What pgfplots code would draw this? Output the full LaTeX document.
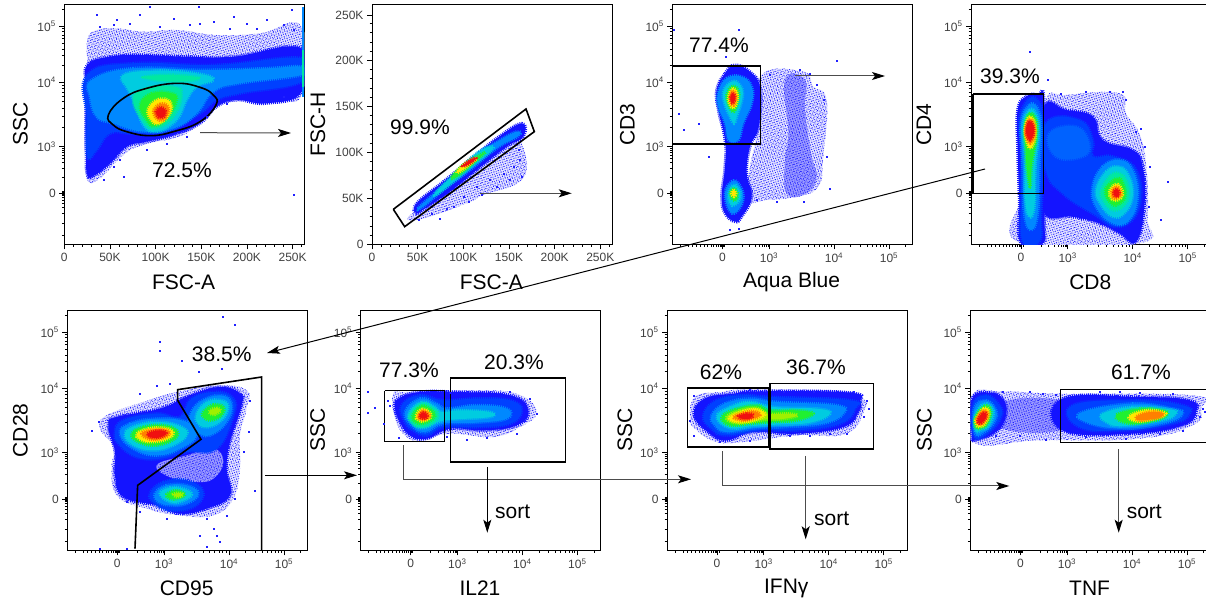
\documentclass[border=0pt]{standalone}
\usepackage{fontspec}
\setmainfont{Liberation Sans}
\usepackage{pgfplots}
\pgfplotsset{compat=1.18}
\usetikzlibrary{arrows.meta,patterns.meta}
\definecolor{c0}{HTML}{E4E4FF}
\definecolor{c0b}{HTML}{9A9AFF}
\definecolor{c1}{HTML}{1414FF}
\definecolor{c2}{HTML}{0040FF}
\definecolor{c2b}{HTML}{0062FF}
\definecolor{c3}{HTML}{0088FF}
\definecolor{c4}{HTML}{00CCE0}
\definecolor{c5}{HTML}{00E8A0}
\definecolor{c6}{HTML}{20F030}
\definecolor{c7}{HTML}{A0F000}
\definecolor{c8}{HTML}{FFE800}
\definecolor{c9}{HTML}{FF8000}
\definecolor{c10}{HTML}{F01010}
\definecolor{dots}{HTML}{2020FF}
\newcommand\B[2]{\addplot[draw=#1,line width=3pt,dash pattern=on 0.9pt off 1.1pt,fill=#1,smooth cycle,tension=0.75,forget plot] coordinates {#2};}
\newcommand\Sp[2]{%
  \addplot[draw=none,fill=#1,smooth cycle,tension=0.75,forget plot] coordinates {#2};%
  \addplot[draw=none,pattern={Dots[distance=2.3pt,radius=0.55pt,angle=17]},pattern color=dots,smooth cycle,tension=0.75,forget plot] coordinates {#2};%
  \addplot[draw=none,pattern={Dots[distance=3.1pt,radius=0.55pt,angle=63]},pattern color=dots,smooth cycle,tension=0.75,forget plot] coordinates {#2};%
}
\newcommand\G[1]{\addplot[black,line width=1.6pt,line join=miter,forget plot] coordinates {#1};}
\newcommand\D[1]{\addplot[only marks,mark=square*,mark size=0.55pt,color=dots,draw=none,forget plot] coordinates {#1};}
\newcommand\T[3]{\node[font=\fontsize{21}{21}\selectfont,inner sep=0pt] at (#1,{602-#2}) {#3};}
\newcommand\A[5][black!70]{\draw[#1,line width=1pt,-{Stealth[length=13pt,width=8pt,inset=3pt,black]}] (#2,{602-#3}) -- (#4,{602-#5});}
\pgfplotsset{
  flow/.style n args={4}{
    at={(#1pt,#2pt)},anchor=south west,width=240pt,height=240pt,scale only axis,
    xmin=0,xmax=720,ymin=0,ymax=720,
    x filter/.expression={x-#3},y filter/.expression={720-(y-#4)},
    xtick pos=lower,ytick pos=lower,tick align=outside,
    major tick length=5pt,minor tick length=2.5pt,
    every tick/.style={black,line width=0.7pt},
    axis line style={line width=1pt},
    tick label style={font=\fontsize{12}{12}\selectfont,color=black!75},
    every axis x label/.style={at={(axis description cs:0.497,0)},anchor=center,yshift=-38pt,font=\fontsize{21}{21}\selectfont},
  },
  yl/.style={every axis y label/.style={at={(axis description cs:{-#1/240},0.5)},rotate=90,anchor=center,font=\fontsize{21}{21}\selectfont}},
  bx/.style={xtick={150,290,485,650},xticklabels={0,10\textsuperscript{3},10\textsuperscript{4},10\textsuperscript{5}},
    minor xtick={24,48,60,72,84,96,106,116,124,132,138,144,148,152,156,210,232,250,262,270,277,283,287,349,382,407,426,442,455,466,476,535,564,584,600,613,625,634,642,700}},
  by/.style={ytick={154,293,486,654},yticklabels={0,10\textsuperscript{3},10\textsuperscript{4},10\textsuperscript{5}},
    minor ytick={28,62,92,110,122,132,140,146,150,152,156,158,200,228,245,258,268,276,283,288,351,385,409,428,443,456,468,478,537,566,586,603,617,628,638,647,704}},
  lx/.style={xtick={0,137,274,411,548,685},xticklabels={0,50K,100K,150K,200K,250K},
    minor xtick={27.4,54.8,82.2,109.6,164.4,191.8,219.2,246.6,301.4,328.8,356.2,383.6,438.4,465.8,493.2,520.6,575.4,602.8,630.2,657.6,712.4}},
  ly/.style={ytick={0,138,276,413,551,688},yticklabels={0,50K,100K,150K,200K,250K},
    minor ytick={27.6,55.2,82.8,110.4,165.6,193.2,220.8,248.4,303.6,331.2,358.8,386.4,441.6,469.2,496.8,524.4,579.6,607.2,634.8,662.4}},
}
\begin{document}
\begin{tikzpicture}[x=1pt,y=1pt]
\path[use as bounding box,clip] (0,0) rectangle (1206,602);
% ---------- panel 1
\begin{axis}[flow={64.33}{357.67}{193}{13},lx,by,yl=44,xlabel={FSC-A},ylabel={SSC}]
\Sp{c0}{(262,200)(262,120)(290,90)(350,85)(430,95)(530,90)(650,105)(780,100)(905,80)(905,285)(820,295)(700,305)(640,325)(560,400)(430,435)(370,465)(300,535)(262,540)(258,450)(256,350)(258,260)}
\B{c1}{(262,195)(330,170)(420,165)(560,170)(700,170)(905,145)(905,275)(800,310)(710,300)(650,320)(600,370)(520,405)(440,425)(380,440)(330,490)(285,525)(262,525)(258,450)(257,350)(258,260)}
\B{c2}{(262,225)(400,190)(650,195)(905,175)(905,245)(720,280)(650,300)(600,340)(500,395)(400,400)(330,400)(290,450)(262,470)(260,350)}
\B{c3}{(275,240)(400,205)(620,210)(800,205)(905,200)(905,225)(720,250)(640,275)(590,340)(520,385)(430,395)(340,370)(290,350)(270,290)}
\B{c4}{(370,225)(480,212)(600,222)(640,240)(590,260)(560,300)(530,360)(470,395)(430,375)(410,320)(385,270)}
\B{c5}{(400,300)(440,265)(520,260)(545,285)(520,350)(470,385)(435,370)}
\B{c5}{(430,232)(520,225)(600,235)(520,245)}
\B{c6}{(420,315)(455,280)(515,280)(530,300)(505,350)(465,378)(440,360)}
\B{c8}{(445,325)(475,298)(510,305)(510,340)(475,372)(450,355)}
\B{c9}{(460,335)(480,312)(505,320)(500,350)(478,362)}
\B{c10}{(468,335)(483,322)(497,332)(492,350)(476,352)}
\addplot[draw=none,fill=c3,forget plot] coordinates {(905,20)(912,20)(912,150)(905,150)};
\addplot[draw=none,fill=c5,forget plot] coordinates {(905,150)(912,150)(912,260)(905,260)};
\addplot[draw=none,fill=c3,forget plot] coordinates {(905,260)(912,260)(912,290)(905,290)};
\D{(290,45)(420,45)(450,20)(595,20)(700,50)(740,70)(800,60)(875,30)(350,60)(520,55)(600,70)(640,65)(770,85)(850,75)(300,80)(340,75)(390,70)(480,80)(570,75)(690,85)(880,90)(360,480)(310,540)(340,500)(370,530)(880,585)(925,600)(440,450)(500,430)(560,410)(620,350)(680,310)(760,305)(850,290)}
\addplot[black,line width=1.6pt,smooth cycle,tension=0.75,forget plot] coordinates {(325,345)(370,295)(440,265)(530,250)(600,262)(640,285)(648,315)(600,365)(520,395)(450,407)(380,395)(340,375)};
\end{axis}
% ---------- panel 2
\begin{axis}[flow={372}{357.67}{186}{13},lx,ly,yl=54,xlabel={FSC-A},ylabel={FSC-H}]
\Sp{c0}{(320,660)(470,610)(520,585)(640,535)(635,430)(600,435)(330,620)}
\B{c1}{(320,610)(400,545)(480,480)(560,415)(635,370)(640,410)(590,440)(500,510)(420,575)(345,625)(320,640)}
\B{c3}{(330,618)(420,540)(500,465)(570,420)(620,395)(625,408)(560,445)(480,510)(400,570)(340,620)}
\B{c4}{(380,575)(440,515)(500,460)(540,440)(545,450)(490,495)(430,545)(385,580)}
\B{c6}{(425,530)(465,490)(510,465)(525,458)(490,490)(440,530)}
\B{c8}{(440,515)(470,488)(500,475)(475,497)(450,515)}
\B{c10}{(458,498)(480,480)(498,475)(478,492)}
\D{(325,660)(390,655)(430,620)(475,605)(515,585)(560,560)(600,540)(635,530)(625,450)(630,480)(610,500)(580,520)(540,540)(500,560)(460,590)(410,625)(365,640)}
\G{(250,628)(648,327)(673,395)(284,680)(250,628)}
\end{axis}
% ---------- panel 3
\begin{axis}[flow={672.33}{357.67}{187}{13},bx,by,yl=45,xlabel={Aqua Blue},ylabel={CD3}]
\Sp{c0}{(450,230)(580,215)(610,260)(650,300)(640,470)(625,560)(560,590)(470,600)(410,600)(420,500)(440,400)}
\Sp{c0b}{(525,240)(585,240)(585,330)(605,470)(620,530)(590,580)(530,580)(525,480)(535,400)}
\B{c1}{(320,270)(345,220)(375,195)(420,215)(450,260)(450,350)(440,400)(420,440)(410,520)(425,590)(395,650)(375,665)(345,640)(335,590)(345,500)(345,420)(325,330)}
\B{c3}{(325,275)(350,235)(395,230)(425,260)(425,310)(400,370)(385,420)(355,420)(345,370)(325,320)}
\B{c3}{(345,580)(365,545)(385,550)(400,590)(385,630)(360,635)}
\B{c4}{(340,275)(365,245)(390,255)(398,290)(380,350)(372,370)(360,350)(345,315)}
\B{c4}{(355,580)(370,555)(385,565)(392,590)(375,615)(360,610)}
\B{c6}{(350,285)(368,258)(385,270)(385,300)(372,335)(358,320)}
\B{c6}{(360,580)(370,565)(382,578)(380,598)(368,600)}
\B{c8}{(355,290)(368,265)(382,280)(380,310)(370,325)(358,312)}
\B{c8}{(364,580)(371,570)(378,580)(372,590)}
\B{c9}{(359,292)(368,272)(378,288)(375,310)(366,315)}
\B{c10}{(361,292)(368,280)(376,292)(370,308)(363,305)}
\D{(680,183)(660,565)(190,90)(205,340)(220,390)(265,372)(295,470)(385,90)(348,170)(650,470)(640,300)(620,255)(600,220)(570,210)(480,225)(440,600)(500,605)(580,605)(385,685)(360,690)}
\G{(187,198)(452,198)(452,432)(187,432)}
\end{axis}
% ---------- panel 4
\begin{axis}[flow={971}{357.67}{195}{13},bx,by,yl=47,xlabel={CD8},ylabel={CD4}]
\Sp{c0}{(420,300)(480,285)(640,280)(660,340)(700,400)(720,490)(725,650)(700,730)(345,730)(345,600)(400,500)}
\B{c1}{(415,320)(480,330)(560,350)(590,420)(680,450)(710,500)(715,620)(690,725)(640,700)(580,670)(500,650)(415,640)(405,500)}
\B{c1}{(335,330)(360,290)(395,285)(415,310)(415,640)(410,730)(345,730)(340,600)(335,450)}
\B{c2}{(420,370)(520,360)(560,420)(560,470)(620,470)(690,510)(700,620)(640,680)(560,640)(470,580)(420,510)}
\B{c2b}{(430,400)(510,380)(550,430)(530,470)(450,470)}
\B{c3}{(560,560)(590,500)(640,480)(680,510)(695,590)(670,660)(620,670)(570,620)}
\B{c4}{(570,570)(600,515)(640,500)(670,530)(680,590)(655,640)(620,650)(585,615)}
\B{c5}{(585,575)(610,530)(640,520)(662,545)(668,590)(645,625)(615,628)(595,605)}
\B{c6}{(597,575)(617,545)(640,535)(655,560)(658,590)(640,612)(617,612)}
\B{c8}{(610,575)(628,553)(643,560)(650,585)(635,600)(618,598)}
\B{c9}{(617,575)(630,560)(642,570)(645,585)(632,595)(620,592)}
\B{c10}{(622,575)(632,568)(640,578)(638,588)(628,590)}
\B{c2}{(340,360)(365,300)(395,300)(410,350)(412,500)(405,640)(400,725)(350,725)(345,600)(345,450)}
\B{c3}{(345,370)(370,315)(395,325)(405,380)(400,500)(395,640)(375,690)(355,640)(350,500)}
\B{c4}{(350,380)(370,330)(392,345)(398,400)(388,500)(385,620)(370,650)(358,600)(358,480)}
\B{c6}{(355,385)(370,340)(390,360)(392,410)(378,490)(372,560)(362,500)(358,440)}
\B{c8}{(357,385)(370,350)(387,370)(387,415)(374,445)(362,425)}
\B{c9}{(358,388)(370,358)(385,375)(385,410)(373,430)(362,415)}
\B{c10}{(360,385)(370,363)(383,378)(382,405)(372,420)(363,408)}
\D{(370,155)(425,240)(465,280)(540,275)(610,275)(650,275)(660,300)(705,385)(785,545)(763,658)(730,500)(728,620)(715,440)(690,395)}
\G{(201,282)(413,282)(413,580)(201,580)(201,282)}
\end{axis}
% ---------- panel 5
\begin{axis}[flow={67.33}{51.67}{202}{25},bx,by,yl=47,xlabel={CD95},ylabel={CD28}]
\Sp{c0}{(300,380)(320,340)(430,300)(530,270)(650,250)(740,265)(740,320)(720,400)(720,500)(700,590)(640,640)(540,640)(440,620)(350,580)(335,490)(345,440)}
\B{c1}{(325,370)(350,345)(480,320)(570,280)(660,255)(720,275)(725,310)(690,420)(680,500)(690,580)(620,620)(540,635)(470,610)(370,585)(345,520)(345,450)}
\Sp{c0b}{(470,490)(560,460)(640,440)(670,480)(640,530)(590,540)(520,530)}
\B{c2}{(345,395)(370,355)(470,335)(540,345)(575,290)(650,270)(700,290)(700,340)(650,440)(560,450)(480,470)(410,465)(360,430)}
\B{c2}{(450,575)(490,540)(560,535)(610,570)(580,615)(510,625)(465,605)}
\B{c3}{(360,395)(390,365)(470,350)(560,360)(590,400)(540,440)(470,460)(400,440)}
\B{c3}{(570,340)(600,300)(660,280)(695,305)(680,360)(630,400)(590,390)(570,370)}
\B{c3}{(465,575)(500,550)(560,550)(595,575)(560,605)(510,610)(475,600)}
\B{c4}{(375,395)(410,370)(480,360)(545,375)(560,400)(520,430)(460,445)(400,430)}
\B{c4}{(590,335)(620,300)(665,295)(685,315)(665,355)(625,375)(595,365)}
\B{c4}{(480,575)(510,557)(550,560)(575,578)(545,598)(510,600)}
\B{c6}{(395,395)(430,375)(490,370)(530,385)(525,410)(470,430)(415,420)}
\B{c6}{(610,330)(640,308)(670,315)(665,340)(635,355)(612,348)}
\B{c6}{(500,577)(530,565)(555,578)(535,590)(510,590)}
\B{c8}{(410,395)(445,380)(495,378)(520,392)(500,412)(450,420)(420,412)}
\B{c7}{(630,325)(650,318)(662,325)(645,338)(630,335)}
\B{c7}{(520,577)(540,573)(548,580)(530,585)}
\B{c9}{(425,395)(455,383)(495,383)(510,393)(490,408)(450,412)}
\B{c10}{(442,395)(470,386)(495,388)(495,400)(470,408)(450,405)}
\D{(668,43)(705,67)(478,118)(595,210)(665,200)(545,175)(275,387)(297,360)(480,145)(420,275)(470,250)(510,245)(620,650)(640,680)(600,700)(660,720)(620,735)(680,640)(750,295)(745,390)(730,450)(765,565)(705,590)(500,650)(420,630)(380,600)(300,740)(380,740)(650,700)}
\G{(405,740)(413,550)(603,412)(533,295)(533,263)(785,225)(785,745)}
\end{axis}
% ---------- panel 6
\begin{axis}[flow={360.67}{51.67}{152}{25},bx,by,yl=43,xlabel={IL21},ylabel={SSC}]
\Sp{c0}{(250,275)(290,270)(480,265)(620,275)(680,330)(630,375)(550,405)(420,395)(340,415)(290,405)(255,350)}
\B{c1}{(265,290)(330,270)(440,270)(600,280)(655,325)(620,370)(520,385)(420,380)(350,410)(300,400)(270,360)(255,320)}
\B{c2}{(275,310)(330,280)(400,295)(500,290)(600,295)(635,325)(600,365)(500,375)(400,375)(350,400)(310,385)(285,360)}
\B{c3}{(285,330)(330,290)(380,305)(410,320)(500,310)(590,320)(590,350)(500,362)(400,365)(345,390)(305,370)}
\B{c4}{(295,335)(335,300)(375,315)(395,330)(450,325)(540,330)(540,345)(440,352)(390,358)(340,378)(310,365)}
\B{c5}{(300,340)(335,305)(370,320)(385,340)(365,365)(330,375)(308,365)}
\B{c6}{(308,340)(335,312)(365,325)(375,342)(355,360)(330,365)(313,358)}
\B{c8}{(318,340)(337,320)(358,330)(363,345)(345,357)(325,355)}
\B{c9}{(323,342)(338,325)(354,333)(358,345)(342,353)(328,352)}
\B{c10}{(328,342)(338,331)(350,337)(350,347)(338,350)}
\D{(172,270)(173,332)(195,318)(222,365)(232,296)(240,310)(265,408)(410,405)(470,412)(530,408)(620,395)(660,290)(680,335)(645,355)(600,270)(470,268)(420,272)}
\G{(224,266)(404,266)(404,418)(224,418)(224,266)}
\G{(421,228)(767,228)(767,480)(421,480)(421,228)}
\end{axis}
% ---------- panel 7
\begin{axis}[flow={667}{51.67}{171}{25},bx,by,yl=42,xlabel={IFNγ},ylabel={SSC}]
\Sp{c0}{(240,350)(255,285)(330,270)(430,262)(700,268)(760,290)(765,320)(710,395)(560,400)(400,420)(320,420)(260,385)}
\B{c1}{(252,340)(285,290)(370,275)(450,268)(720,272)(750,300)(745,330)(700,375)(560,395)(430,390)(350,415)(300,395)}
\B{c2}{(280,340)(320,295)(400,280)(480,285)(720,295)(735,320)(690,365)(560,385)(450,385)(350,400)(305,380)}
\B{c3}{(305,340)(345,305)(420,290)(500,300)(680,310)(700,335)(640,365)(520,375)(440,378)(350,390)(315,370)}
\B{c4}{(320,345)(360,315)(420,300)(490,315)(620,320)(660,335)(600,362)(500,368)(430,372)(360,378)}
\B{c6}{(335,345)(375,322)(440,310)(480,325)(560,325)(610,335)(560,355)(480,360)(420,365)(360,370)}
\B{c7}{(350,345)(390,325)(440,318)(475,335)(540,335)(560,342)(510,352)(470,352)(410,362)(370,362)}
\B{c8}{(360,345)(400,328)(440,322)(465,338)(440,352)(400,360)(370,358)}
\B{c9}{(370,345)(400,332)(435,328)(450,340)(430,350)(395,355)}
\B{c10}{(385,342)(410,335)(428,338)(420,350)(395,350)}
\D{(252,282)(238,355)(250,400)(770,295)(775,320)(760,345)(710,395)(660,395)(600,400)(540,402)(420,415)(330,418)(420,263)(520,268)(610,268)(730,270)}
\G{(232,258)(475,258)(475,435)(232,435)(232,258)}
\G{(480,244)(791,244)(791,441)(480,441)(480,244)}
\end{axis}
% ---------- panel 8
\begin{axis}[flow={970.33}{51.67}{193}{25},bx,by,yl=46,xlabel={TNF},ylabel={SSC}]
\Sp{c0}{(198,280)(290,268)(460,275)(860,280)(885,320)(860,370)(700,410)(400,415)(200,420)}
\Sp{c0b}{(290,300)(480,300)(480,380)(290,380)}
\B{c1}{(198,290)(250,272)(290,290)(300,340)(270,390)(205,415)(198,400)}
\B{c1}{(470,290)(700,285)(850,295)(870,330)(830,370)(680,395)(470,385)}
\B{c2}{(200,310)(240,280)(280,310)(285,345)(250,390)(205,405)}
\B{c2}{(500,310)(690,295)(830,310)(850,335)(800,365)(650,385)(520,375)}
\B{c3}{(205,320)(240,295)(270,325)(265,360)(235,390)(208,395)}
\B{c3}{(530,330)(680,305)(800,320)(830,335)(780,362)(650,380)(540,360)}
\B{c4}{(207,340)(235,305)(262,325)(250,370)(225,385)(208,385)}
\B{c4}{(590,335)(680,315)(790,322)(810,335)(770,355)(650,372)(600,360)}
\B{c6}{(208,345)(235,312)(255,325)(245,365)(222,380)(208,375)}
\B{c6}{(630,340)(700,320)(770,325)(785,337)(750,355)(670,365)}
\B{c8}{(210,350)(232,320)(250,328)(240,362)(220,375)(210,365)}
\B{c8}{(670,342)(720,325)(770,330)(775,340)(740,352)(690,358)}
\B{c9}{(212,350)(232,325)(246,335)(236,360)(220,368)}
\B{c9}{(690,344)(730,330)(770,333)(765,345)(735,352)(700,355)}
\B{c10}{(215,352)(232,332)(242,340)(232,358)(220,365)}
\B{c9}{(725,340)(750,335)(760,342)(740,348)}
\D{(290,268)(370,270)(410,275)(450,278)(580,270)(640,270)(700,272)(800,275)(890,320)(895,330)(880,345)(830,385)(760,395)(660,410)(540,405)(420,412)(340,400)(270,400)}
\G{(1000,262)(463,262)(463,422)(1000,422)}
\end{axis}
% ---------- annotations
\T{182}{170}{72.5\%}
\T{420}{127}{99.9\%}
\T{719}{45}{77.4\%}
\T{1010}{76}{39.3\%}
\T{221.7}{354}{38.5\%}
\T{409}{370}{77.3\%}
\T{514}{362}{20.3\%}
\T{721}{372}{62\%}
\T{816}{367}{36.7\%}
\T{1141}{372.7}{61.7\%}
\T{512.7}{512}{sort}
\T{831.7}{519.3}{sort}
\T{1144.3}{512}{sort}
\A{200}{132.7}{291}{133}
\A{480}{193.3}{571.7}{193.3}
\A{795}{76}{885}{76}
\A[black]{985}{169}{267}{353}
\A[black]{265}{475.3}{357}{475.3}
\A{403.3}{479.3}{691}{479.3}
\draw[black!70,line width=1pt] (403.3,{602-445.3}) -- (403.3,{602-479.3});
\A{722.3}{486}{1009.3}{486}
\draw[black!70,line width=1pt] (722.3,{602-451.3}) -- (722.3,{602-486});
\A[black]{487.3}{467}{487.3}{532.7}
\A{805.7}{456}{805.7}{539.3}
\A{1118.7}{449.3}{1118.7}{532.7}
\end{tikzpicture}
\end{document}
